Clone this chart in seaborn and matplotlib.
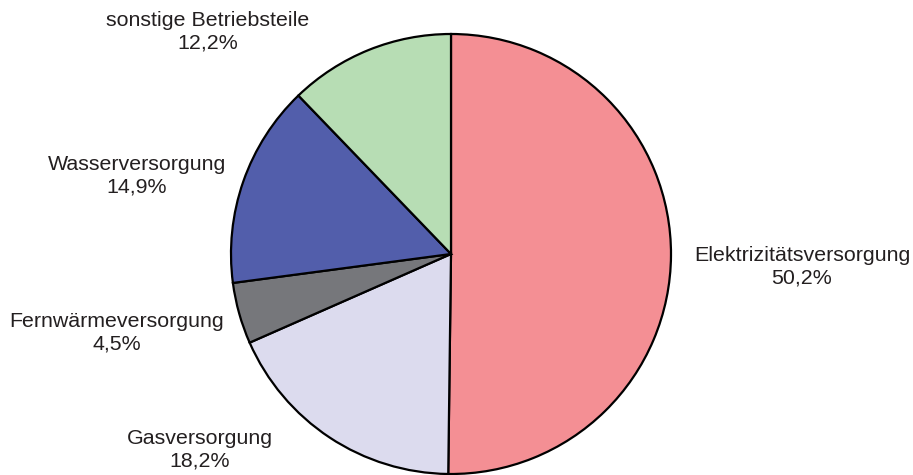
import numpy as np
import seaborn as sns
import matplotlib.pyplot as plt

# shares of the branches, clockwise from the top
sectors = ['Elektrizitätsversorgung', 'Gasversorgung', 'Fernwärmeversorgung',
           'Wasserversorgung', 'sonstige Betriebsteile']
shares = [50.2, 18.2, 4.5, 14.9, 12.2]
colors = ['#F48F94', '#DCDBEE', '#76777B', '#525EAB', '#B7DDB4']

# where the labels sit (pixel space, y up)
label_xy = [(802, 208), (200, 25), (117, 142), (137, 299), (208, 443)]

sns.set_theme(style='white')
plt.rcParams['font.family'] = ['Liberation Sans', 'DejaVu Sans']

fig = plt.figure(figsize=(9.13, 4.75), dpi=100)
ax = fig.add_axes([0, 0, 1, 1])
ax.pie(shares, colors=colors, startangle=90, counterclock=False,
       center=(451, 221), radius=220, frame=False,
       wedgeprops=dict(edgecolor='black', linewidth=1.6))

for name, val, (x, y) in zip(sectors, shares, label_xy):
    txt = name + '\n' + ('%.1f' % val).replace('.', ',') + '%'
    ax.text(x, y, txt, ha='center', va='center', fontsize=15.4,
            color='#231F20', linespacing=1.22)

ax.set_xlim(0, 913)
ax.set_ylim(0, 475)
ax.set_aspect('equal')
ax.axis('off')

plt.savefig('out.png', dpi=100)
